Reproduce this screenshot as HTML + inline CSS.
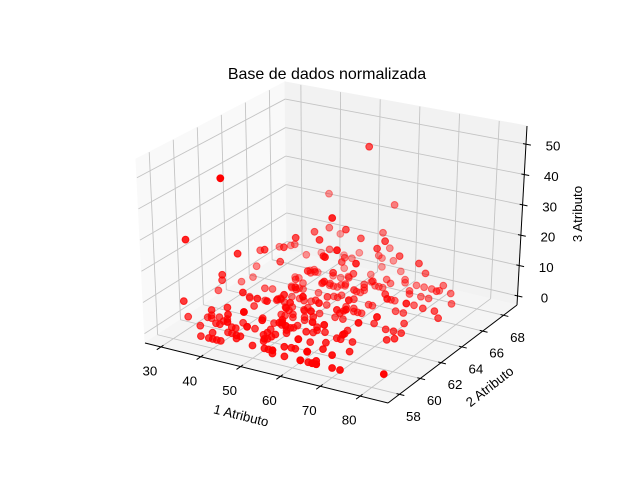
<!DOCTYPE html>
<html><head><meta charset="utf-8"><style>
html,body{margin:0;padding:0;background:#fff;}
svg{display:block;font-family:"Liberation Sans","DejaVu Sans",sans-serif;}
</style></head><body>
<svg id="chart" width="640" height="478" viewBox="0 0 640 478" xmlns="http://www.w3.org/2000/svg">
<rect width="640" height="478" fill="#fff"/>
<text x="327" y="79" font-size="16" text-anchor="middle" fill="#000">Base de dados normalizada</text>
<g id="panes"></g><g id="grid"></g><g id="axes"></g><g id="pts"></g><g id="labels"></g>
<text x="241" y="420" font-size="13.3" text-anchor="middle" transform="rotate(14 241 416)">1 Atributo</text>
<text x="490" y="391" font-size="13.3" text-anchor="middle" transform="rotate(-38 490 387)">2 Atributo</text>
<text x="582" y="222" font-size="13.3" text-anchor="middle" transform="rotate(-90 578 218)">3 Atributo</text>
</svg>
<script>
const age=[30,30,30,31,31,33,33,34,34,34,34,34,34,34,35,35,36,36,37,37,37,37,37,37,
38,38,38,38,38,38,38,38,38,38,39,39,39,39,39,39,40,40,40,
41,41,41,41,41,41,41,41,41,41,42,42,42,42,42,42,42,42,42,
43,43,43,43,43,43,43,43,43,43,43,44,44,44,44,44,44,44,
45,45,45,45,45,45,45,45,45,46,46,46,46,46,46,46,
47,47,47,47,47,47,47,47,47,47,47,48,48,48,48,48,48,48,
49,49,49,49,49,49,49,49,49,49,50,50,50,50,50,50,50,50,50,50,50,50,
51,51,51,51,51,51,52,52,52,52,52,52,52,52,52,52,52,52,52,52,
53,53,53,53,53,53,53,53,53,53,53,54,54,54,54,54,54,54,54,54,54,54,54,54,
55,55,55,55,55,55,55,55,55,55,56,56,56,56,56,56,56,
57,57,57,57,57,57,57,57,57,57,57,57,58,58,58,58,58,58,58,
59,59,59,59,59,59,59,59,60,60,60,60,60,60,61,61,61,61,61,61,61,61,61,
62,62,62,62,62,62,62,63,63,63,63,63,63,63,63,64,64,64,64,64,
65,65,65,65,65,65,65,65,65,65,66,66,66,66,66,67,67,67,67,67,67,68,68,
69,69,69,69,70,70,70,70,70,70,70,71,72,72,72,72,73,73,74,74,75,76,77,78,83];
const year=[64,62,65,59,65,58,60,59,66,58,60,61,67,60,
64,63,60,69,60,63,58,59,60,63,
69,59,60,60,62,64,66,66,60,67,
66,63,67,58,59,63,
58,58,65,
60,64,67,58,59,59,64,69,65,65,
69,59,58,60,59,61,62,65,63,
58,59,64,60,63,65,64,60,63,65,66,
64,58,63,61,63,61,67,
65,66,67,60,67,59,64,68,67,
58,69,62,65,62,58,63,
63,62,65,61,63,66,67,58,60,68,66,
58,58,67,61,62,64,66,
63,64,61,62,66,60,62,63,61,67,
63,64,59,61,61,63,58,59,61,64,65,66,
59,59,64,59,65,66,
69,59,62,66,61,63,69,60,60,62,62,64,65,68,
58,65,59,60,63,65,58,60,60,61,63,
60,65,65,68,59,60,66,67,62,69,63,58,62,
63,68,58,58,58,66,66,69,69,67,
65,66,60,66,66,67,60,
61,62,59,62,64,69,61,62,63,64,64,67,
59,60,61,67,58,58,61,
62,60,63,64,64,64,64,67,
59,65,61,67,61,64,
62,65,68,59,59,64,65,68,59,
59,58,65,62,66,66,58,
60,61,62,63,63,66,61,61,
58,65,66,61,68,
58,61,62,66,58,64,67,59,64,67,
58,61,58,58,68,
64,63,66,66,61,65,
67,68,
67,60,65,66,
58,58,66,67,68,59,63,
68,
63,58,64,67,
62,68,
65,63,
62,67,65,65,58];
const nodes=[1,3,0,2,4,10,0,0,9,30,1,10,7,0,
13,0,1,0,0,0,0,6,15,0,
21,2,0,0,3,1,0,11,1,5,
0,0,0,0,2,4,
2,0,0,
23,0,0,0,8,0,0,8,0,0,
1,0,0,1,2,4,20,0,1,
52,2,0,0,14,2,3,0,2,0,4,
6,9,19,0,1,0,16,
6,0,1,0,0,14,0,0,1,
2,3,5,20,0,3,0,
23,0,0,0,6,0,0,3,4,4,12,
11,11,7,8,2,0,0,
0,10,1,0,0,1,1,3,0,1,
13,0,0,6,0,1,1,2,0,0,4,1,
13,3,7,1,0,1,
3,2,3,4,0,4,0,4,5,0,1,0,0,0,
4,1,3,9,24,12,1,1,2,1,0,
11,23,5,7,7,3,0,46,0,7,19,1,0,
6,15,1,0,1,18,0,3,22,1,
9,3,0,2,1,0,0,
5,14,0,0,1,0,0,0,0,0,0,0,
0,3,1,0,0,3,2,
35,0,0,1,4,0,7,3,
17,0,1,2,25,0,
5,0,1,0,0,0,8,0,0,
13,0,19,6,0,0,0,
1,0,0,0,0,0,9,28,
0,22,0,0,0,
0,2,22,15,0,0,0,2,0,1,
0,13,0,1,0,
8,1,0,0,0,0,
0,0,
8,0,0,0,
0,4,14,0,0,8,0,
2,
0,0,0,3,
0,0,
3,0,
1,0,3,1,2];
const xTicks=[30,40,50,60,70,80];
const yTicks=[58,60,62,64,66,68];
const zTicks=[0,10,20,30,40,50];

const X0=26,X1=87,Y0=56.9,Y1=69.3,Z0=-3,Z1=56;
const C=[[[[145,343],[136,159]],[[287,250],[285,82]]],
         [[[388,403],[391,208]],[[517,305],[527,126]]]];
const NS="http://www.w3.org/2000/svg";
function lerp(a,b,t){return [a[0]+(b[0]-a[0])*t,a[1]+(b[1]-a[1])*t];}
function P(x,y,z){
  const u=(x-X0)/(X1-X0),v=(y-Y0)/(Y1-Y0),w=(z-Z0)/(Z1-Z0);
  const b0=lerp(lerp(C[0][0][0],C[1][0][0],u),lerp(C[0][1][0],C[1][1][0],u),v);
  const b1=lerp(lerp(C[0][0][1],C[1][0][1],u),lerp(C[0][1][1],C[1][1][1],u),v);
  return lerp(b0,b1,w);
}
function mk(tag,attrs,parent){const e=document.createElementNS(NS,tag);for(const k in attrs)e.setAttribute(k,attrs[k]);parent.appendChild(e);return e;}
function line(a,b,stroke,sw,parent){return mk('line',{x1:a[0],y1:a[1],x2:b[0],y2:b[1],stroke:stroke,'stroke-width':sw},parent);}
function poly(pts){return pts.map(p=>p[0]+','+p[1]).join(' ');}

const gp=document.getElementById('panes');
let e;
e=mk('polygon',{points:poly([P(X0,Y0,Z0),P(X0,Y1,Z0),P(X0,Y1,Z1),P(X0,Y0,Z1)]),fill:'#f9f9f9',stroke:'#f9f9f9'},gp);


e=mk('polygon',{points:poly([P(X0,Y1,Z0),P(X1,Y1,Z0),P(X1,Y1,Z1),P(X0,Y1,Z1)]),fill:'#f2f2f2',stroke:'#f2f2f2'},gp);


e=mk('polygon',{points:poly([P(X0,Y0,Z0),P(X1,Y0,Z0),P(X1,Y1,Z0),P(X0,Y1,Z0)]),fill:'#f5f5f5',stroke:'#f5f5f5'},gp);



const gg=document.getElementById('grid');
const GC='#c4c4c4';
xTicks.forEach(t=>{
  e=line(P(t,Y0,Z0),P(t,Y1,Z0),GC,0.9,gg);
  
  
  e=line(P(t,Y1,Z0),P(t,Y1,Z1),GC,0.9,gg);
  
  
});
yTicks.forEach(t=>{
  e=line(P(X0,t,Z0),P(X1,t,Z0),GC,0.9,gg);
  
  
  e=line(P(X0,t,Z0),P(X0,t,Z1),GC,0.9,gg);
  
  
});
zTicks.forEach(t=>{
  e=line(P(X0,Y0,t),P(X0,Y1,t),GC,0.9,gg);
  
  
  e=line(P(X0,Y1,t),P(X1,Y1,t),GC,0.9,gg);
  
  
});

const ga=document.getElementById('axes');
e=line(P(X0,Y0,Z0),P(X1,Y0,Z0),'#000',1,ga);


e=line(P(X1,Y0,Z0),P(X1,Y1,Z0),'#000',1,ga);


e=line(P(X1,Y1,Z0),P(X1,Y1,Z1),'#000',1,ga);



const gl=document.getElementById('labels');
function unit(a,b){const dx=b[0]-a[0],dy=b[1]-a[1],l=Math.hypot(dx,dy);return [dx/l,dy/l];}
function label(txt,p,name){
  const t=mk('text',{x:p[0],y:p[1]+4.5,'font-size':13.3,'text-anchor':'middle',fill:'#000'},gl);
  t.textContent=txt;
  
  
}
xTicks.forEach(t=>{
  const p=P(t,Y0,Z0),d=unit(P(t,Y1,Z0),p);
  e=line([p[0]-d[0]*3,p[1]-d[1]*3],[p[0]+d[0]*5,p[1]+d[1]*5],'#000',1,ga);
  
  
  label(String(t),[p[0]-11,p[1]+24],'x-tick-label');
});
yTicks.forEach(t=>{
  const p=P(X1,t,Z0),d=unit(P(X0,t,Z0),p);
  e=line([p[0]-d[0]*3,p[1]-d[1]*3],[p[0]+d[0]*5,p[1]+d[1]*5],'#000',1,ga);
  
  
  label(String(t),[p[0]+14,p[1]+22],'y-tick-label');
});
zTicks.forEach(t=>{
  const p=P(X1,Y1,t),d=unit(P(X0,Y1,t),p);
  e=line([p[0]-d[0]*3,p[1]-d[1]*3],[p[0]+d[0]*5,p[1]+d[1]*5],'#000',1,ga);
  
  
  label(String(t),[p[0]+27,p[1]+2],'z-tick-label');
});

const gpt=document.getElementById('pts');
const items=age.map((a,i)=>{
  const u=(a-X0)/(X1-X0),v=(year[i]-Y0)/(Y1-Y0),w=(nodes[i]-Z0)/(Z1-Z0);
  return {i:i,d:0.433*4*u-0.75*4*v+0.5*3*w};
});
let dmin=Infinity,dmax=-Infinity;
items.forEach(o=>{dmin=Math.min(dmin,o.d);dmax=Math.max(dmax,o.d);});
items.sort((a,b)=>a.d-b.d);
items.forEach(o=>{
  const i=o.i,p=P(age[i],year[i],nodes[i]);
  const al=0.3+0.7*(o.d-dmin)/(dmax-dmin);
  const c=mk('circle',{cx:p[0].toFixed(1),cy:p[1].toFixed(1),r:3.4,fill:'#ff0000','fill-opacity':al.toFixed(2),stroke:'#ff0000','stroke-opacity':al.toFixed(2),'stroke-width':1},gpt);
  
  
});
</script>
</body></html>
